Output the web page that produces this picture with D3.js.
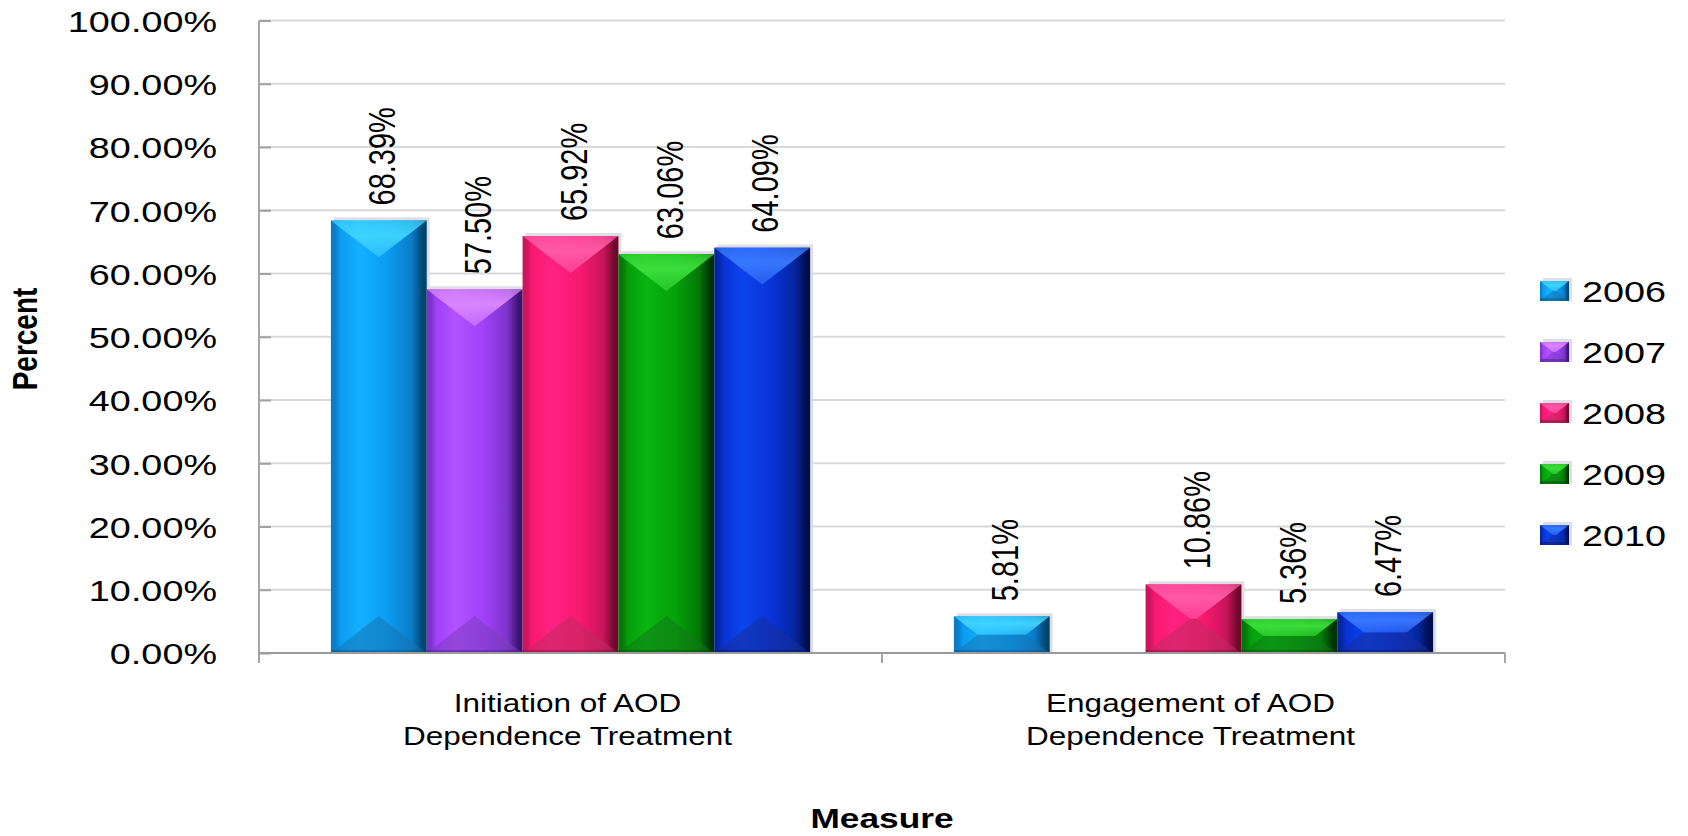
<!DOCTYPE html>
<html>
<head>
<meta charset="utf-8">
<script src="https://cdn.jsdelivr.net/npm/d3@7"></script>
<style>
  html, body { margin: 0; padding: 0; background: #fff; }
  svg { display: block; }
  text { font-family: "Liberation Sans", Arial, sans-serif; fill: #000; }
</style>
</head>
<body>
<div id="chart"></div>
<script>
// Dados
const categories = [
  ['Initiation of AOD', 'Dependence Treatment'],
  ['Engagement of AOD', 'Dependence Treatment']
];
const series = ['2006', '2007', '2008', '2009', '2010'];
const values2006 = [0.6839, 0.0581];
const values2007 = [0.5750, null];
const values2008 = [0.6592, 0.1086];
const values2009 = [0.6306, 0.0536];
const values2010 = [0.6409, 0.0647];
const yTicks = [0, 0.1, 0.2, 0.3, 0.4, 0.5, 0.6, 0.7, 0.8, 0.9, 1.0];

const seriesValues = [values2006, values2007, values2008, values2009, values2010];

// Cores (edge, dark, base, light, topo, base inferior)
const palette = [
  { light: '#14b0ff', base: '#0a9cf0', dark: '#0a7cc8', edge: '#00456e', top: '#40d4ff', bottom: '#1675b5' },
  { light: '#b252ff', base: '#a040f8', dark: '#7c34c8', edge: '#3a1470', top: '#dc88ff', bottom: '#7d3cc0' },
  { light: '#ff2282', base: '#f81870', dark: '#c8155c', edge: '#70082c', top: '#ff5ca8', bottom: '#c02a62' },
  { light: '#0ab412', base: '#05a00a', dark: '#047808', edge: '#003200', top: '#3ce03c', bottom: '#117a18' },
  { light: '#0c44ec', base: '#0833d8', dark: '#0626a0', edge: '#000e50', top: '#3a7aff', bottom: '#16309a' }
];

const W = 1688, H = 836;
const SX = 1.26; // esticamento horizontal do texto
const plot = { left: 259, right: 1505, top: 20.5, bottom: 653 };

const svg = d3.select('#chart').append('svg')
  .attr('width', W)
  .attr('height', H);

const defs = svg.append('defs');
palette.forEach((c, i) => {
  const g = defs.append('linearGradient')
    .attr('id', 'grad' + i)
    .attr('x1', '0%').attr('x2', '100%').attr('y1', '0%').attr('y2', '0%');
  [[0, c.dark], [0.04, c.dark], [0.1, c.base], [0.3, c.light], [0.6, c.base],
   [0.84, c.dark], [0.96, c.edge], [1, c.edge]].forEach(([o, col]) => {
    g.append('stop').attr('offset', o).attr('stop-color', col);
  });
  const t = defs.append('linearGradient')
    .attr('id', 'top' + i)
    .attr('x1', '0%').attr('x2', '0%').attr('y1', '0%').attr('y2', '100%');
  t.append('stop').attr('offset', 0).attr('stop-color', c.top).attr('stop-opacity', 0.7);
  t.append('stop').attr('offset', 0.4).attr('stop-color', c.top).attr('stop-opacity', 0.95);
  t.append('stop').attr('offset', 1).attr('stop-color', c.top).attr('stop-opacity', 0.55);
});

// Escalas
const x0 = d3.scaleBand()
  .domain(d3.range(categories.length))
  .range([plot.left, plot.right])
  .paddingInner(0)
  .paddingOuter(0);

const x1 = d3.scaleBand()
  .domain(d3.range(series.length))
  .range([0, x0.bandwidth()])
  .paddingInner(0)
  .paddingOuter(0.75);

const y = d3.scaleLinear()
  .domain([0, 1])
  .range([plot.bottom, plot.top]);

// Texto esticado
function stretchText(parent, x, y, str, opts = {}) {
  const g = parent.append('g')
    .attr('transform', `translate(${x},${y}) scale(${SX},1)` + (opts.rotate ? ' rotate(-90)' : ''));
  return g.append('text')
    .attr('text-anchor', opts.anchor || 'start')
    .attr('dy', opts.dy || '0')
    .style('font-size', opts.size + 'px')
    .style('font-weight', opts.bold ? 'bold' : 'normal')
    .text(str);
}

// Linhas de grade
svg.append('g')
  .selectAll('line')
  .data(yTicks.slice(1))
  .enter()
  .append('line')
  .attr('x1', plot.left).attr('x2', plot.right)
  .attr('y1', d => y(d)).attr('y2', d => y(d))
  .attr('stroke', '#d9d9d9')
  .attr('stroke-width', 2);

// Eixo Y
const yAxis = svg.append('g')
  .attr('transform', `translate(${plot.left},0)`)
  .call(d3.axisLeft(y).tickValues(yTicks).tickSize(-12).tickFormat(d3.format('.2%')));
yAxis.select('.domain').remove();
yAxis.selectAll('.tick line').attr('stroke', '#a0a0a0').attr('stroke-width', 2);
yAxis.selectAll('.tick text')
  .attr('x', 0)
  .attr('dy', '0.36em')
  .attr('transform', `translate(-42,0) scale(${SX},1)`)
  .style('font-size', '30px')
  .style('font-family', '"Liberation Sans", Arial, sans-serif')
  .attr('fill', '#000');

svg.append('line')
  .attr('x1', plot.left).attr('x2', plot.left)
  .attr('y1', y(1)).attr('y2', y(0) + 10)
  .attr('stroke', '#a6a6a6').attr('stroke-width', 2);

// Barras
function drawBar(g, bx, by, w, h, i) {
  const c = palette[i];
  const dyMax = 0.77 * w / 2;
  const dy = Math.min(dyMax, h / 2);
  const dx = dy / 0.77;
  g.append('rect')
    .attr('x', bx + 3).attr('y', by - 3)
    .attr('width', w).attr('height', h + 3)
    .attr('fill', '#dedee6');
  g.append('rect')
    .attr('x', bx).attr('y', by)
    .attr('width', w).attr('height', h)
    .attr('fill', `url(#grad${i})`);
  g.append('polygon')
    .attr('points', [[bx, by], [bx + w, by], [bx + w - dx, by + dy], [bx + dx, by + dy]].join(' '))
    .attr('fill', `url(#top${i})`);
  g.append('polygon')
    .attr('points', [[bx, by + h], [bx + w, by + h], [bx + w - dx, by + h - dy], [bx + dx, by + h - dy]].join(' '))
    .attr('fill', c.bottom)
    .attr('opacity', 0.55);
  g.append('rect')
    .attr('x', bx).attr('y', by + h - 3)
    .attr('width', w).attr('height', 3)
    .attr('fill', c.edge)
    .attr('opacity', 0.35);
}

const barsG = svg.append('g');
categories.forEach((cat, ci) => {
  series.forEach((s, si) => {
    const v = seriesValues[si][ci];
    if (v == null) return;
    const bx = x0(ci) + x1(si);
    const w = x1.bandwidth();
    drawBar(barsG, bx, y(v), w, y(0) - y(v), si);
  });
});

// Eixo X
svg.append('line')
  .attr('x1', plot.left).attr('x2', plot.right)
  .attr('y1', y(0)).attr('y2', y(0))
  .attr('stroke', '#9a9a9a').attr('stroke-width', 2);

const xAxis = svg.append('g')
  .attr('transform', `translate(0,${y(0)})`)
  .call(d3.axisBottom(x0).tickSize(0).tickFormat(''));
xAxis.select('.domain').remove();

const bounds = x0.domain().map(d => x0(d)).concat([x0.range()[1]]);
svg.append('g')
  .selectAll('line')
  .data(bounds)
  .enter()
  .append('line')
  .attr('x1', d => d).attr('x2', d => d)
  .attr('y1', y(0)).attr('y2', y(0) + 10)
  .attr('stroke', '#a6a6a6').attr('stroke-width', 2);

// Rótulos de categoria
categories.forEach((cat, ci) => {
  const cx = x0(ci) + x0.bandwidth() / 2;
  cat.forEach((line, li) => {
    stretchText(svg, cx - 3, 712 + li * 33, line, { anchor: 'middle', size: 25 });
  });
});

// Rótulos de valores
categories.forEach((cat, ci) => {
  series.forEach((s, si) => {
    const v = seriesValues[si][ci];
    if (v == null) return;
    const cx = x0(ci) + x1(si) + x1.bandwidth() / 2 + 3;
    stretchText(svg, cx, y(v) - 15, d3.format('.2%')(v), { rotate: true, size: 29, dy: '0.36em' });
  });
});

// Títulos dos eixos
stretchText(svg, 24, 339, 'Percent', { rotate: true, anchor: 'middle', size: 28, bold: true, dy: '0.36em' });
stretchText(svg, (plot.left + plot.right) / 2, 828, 'Measure', { anchor: 'middle', size: 28, bold: true });

// Legenda
const legend = svg.append('g');
series.forEach((s, i) => {
  const ly = 291 + i * 61;
  drawBar(legend, 1540, ly - 10, 29, 20, i);
  stretchText(legend, 1582, ly, s, { size: 30, dy: '0.36em' });
});
</script>
</body>
</html>
